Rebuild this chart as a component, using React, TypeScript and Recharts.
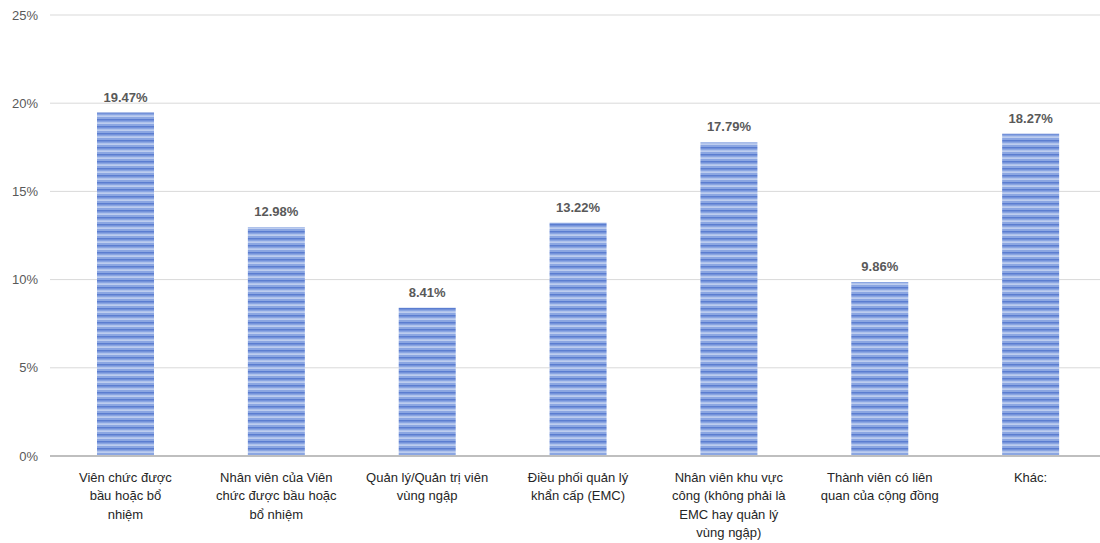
import { BarChart, Bar, XAxis, YAxis, CartesianGrid, LabelList } from 'recharts';

const categories = [
  'Viên chức được\nbầu hoặc bổ\nnhiệm',
  'Nhân viên của Viên\nchức được bầu hoặc\nbổ nhiệm',
  'Quản lý/Quản trị viên\nvùng ngập',
  'Điều phối quản lý\nkhẩn cấp (EMC)',
  'Nhân viên khu vực\ncông (không phải là\nEMC hay quản lý\nvùng ngập)',
  'Thành viên có liên\nquan của cộng đồng',
  'Khác:',
];
const shares = [19.47, 12.98, 8.41, 13.22, 17.79, 9.86, 18.27];
const yTicks = [0, 5, 10, 15, 20, 25];

const data = categories.map((name, i) => ({ name, value: shares[i] }));

const CategoryTick = (props: any) => {
  const { x, y, payload } = props;
  const lines = String(payload.value).split('\n');
  return (
    <g transform={`translate(${x},${y})`}>
      {lines.map((line: string, i: number) => (
        <text
          key={i}
          x={0}
          y={18 + i * 18.3}
          textAnchor="middle"
          fontSize={13}
          fill="#262626"
          fontFamily="Liberation Sans, Arial, sans-serif"
        >
          {line}
        </text>
      ))}
    </g>
  );
};

export default function App() {
  return (
    <div style={{ position: 'absolute', left: 0, top: 0 }}>
      <BarChart
        width={1110}
        height={543}
        data={data}
        margin={{ top: 15, right: 4, bottom: 0, left: 0 }}
      >
        <defs>
          <pattern id="stripes" width="8" height="7" patternUnits="userSpaceOnUse">
            <rect width="8" height="7" fill="#8ba6e2" />
            <rect y="0" width="8" height="1.5" fill="#5b7dd0" />
            <rect y="3.5" width="8" height="1.2" fill="#d3def5" />
          </pattern>
        </defs>
        <CartesianGrid vertical={false} stroke="#d9d9d9" />
        <XAxis
          dataKey="name"
          interval={0}
          height={87}
          tick={<CategoryTick />}
          tickLine={false}
          axisLine={{ stroke: '#bfbfbf', strokeWidth: 2 }}
        />
        <YAxis
          domain={[0, 25]}
          ticks={yTicks}
          width={50}
          tickFormatter={(v) => `${v}%`}
          tickLine={false}
          axisLine={false}
          tickSize={0}
          tickMargin={12}
          tick={{ fontSize: 13, fill: '#595959', fontFamily: 'Liberation Sans, Arial, sans-serif' }}
        />
        <Bar dataKey="value" fill="url(#stripes)" barSize={57} isAnimationActive={false}>
          <LabelList
            dataKey="value"
            position="top"
            offset={11}
            formatter={(v: any) => `${Number(v).toFixed(2)}%`}
            style={{ fontSize: 13, fill: '#595959', fontWeight: 700, fontFamily: 'Liberation Sans, Arial, sans-serif' }}
          />
        </Bar>
      </BarChart>
    </div>
  );
}
